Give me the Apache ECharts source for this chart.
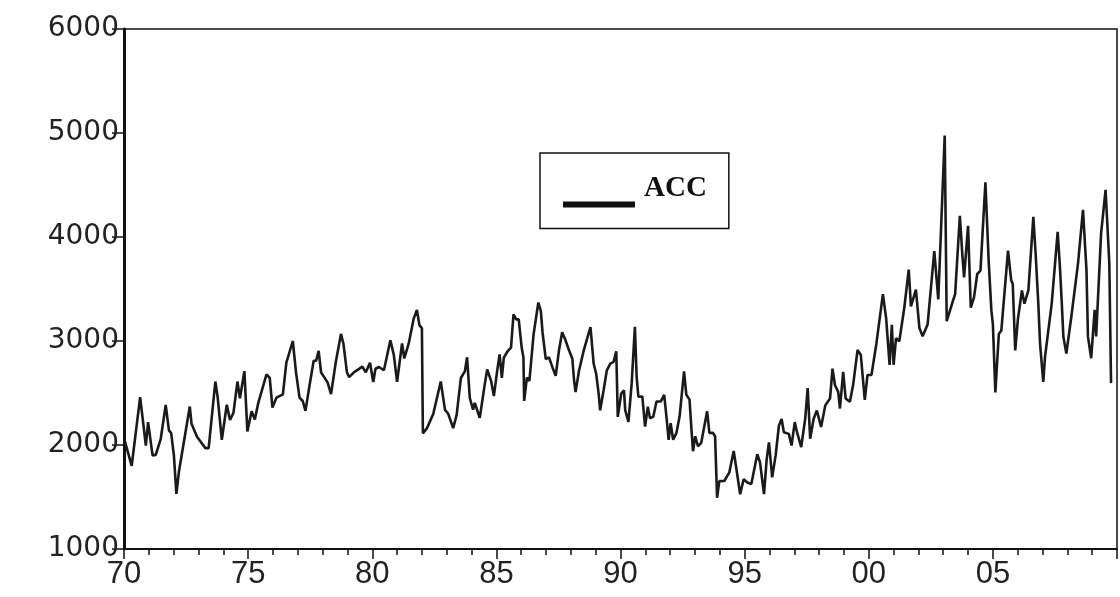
<!DOCTYPE html>
<html>
<head>
<meta charset="utf-8">
<title>ACC</title>
<script src="https://cdn.jsdelivr.net/npm/echarts@6/dist/echarts.min.js"></script>
<style>
html, body { margin: 0; padding: 0; background: #fff; }
#main { width: 1120px; height: 597px; }
</style>
</head>
<body>
<div id="main"></div>
<script>
// (decimal year, value)
var dates = [
	1970.02, 1970.31, 1970.65, 1970.88, 1970.97, 1971.15, 1971.28, 1971.48, 1971.68, 1971.81, 1971.90,
	1972.01, 1972.11, 1972.21, 1972.65, 1972.72, 1972.94, 1973.28, 1973.41, 1973.68, 1973.77, 1973.94,
	1974.14, 1974.27, 1974.41, 1974.57, 1974.67, 1974.85, 1974.97, 1975.14, 1975.27, 1975.41, 1975.74,
	1975.87, 1975.98, 1976.14, 1976.40, 1976.54, 1976.80, 1976.93, 1977.07, 1977.20, 1977.31, 1977.47,
	1977.64, 1977.74, 1977.84, 1977.94, 1978.07, 1978.20, 1978.34, 1978.53, 1978.74, 1978.84, 1978.98,
	1979.07, 1979.27, 1979.47, 1979.60, 1979.74, 1979.91, 1980.04, 1980.13, 1980.27, 1980.47, 1980.73,
	1980.87, 1981.00, 1981.20, 1981.29, 1981.47, 1981.67, 1981.80, 1981.90, 1982.00, 1982.04, 1982.20,
	1982.46, 1982.76, 1982.93, 1983.06, 1983.26, 1983.40, 1983.57, 1983.73, 1983.82, 1983.93, 1984.06,
	1984.13, 1984.33, 1984.53, 1984.63, 1984.79, 1984.90, 1985.03, 1985.13, 1985.22, 1985.30, 1985.46,
	1985.59, 1985.69, 1985.80, 1985.90, 1986.02, 1986.09, 1986.12, 1986.23, 1986.33, 1986.50, 1986.69,
	1986.79, 1986.86, 1986.99, 1987.12, 1987.26, 1987.39, 1987.52, 1987.65, 1987.79, 1987.93, 1988.06,
	1988.13, 1988.19, 1988.33, 1988.52, 1988.79, 1988.92, 1989.02, 1989.12, 1989.18, 1989.32, 1989.45,
	1989.59, 1989.72, 1989.83, 1989.89, 1990.03, 1990.14, 1990.19, 1990.32, 1990.45, 1990.58, 1990.65,
	1990.72, 1990.88, 1990.99, 1991.10, 1991.19, 1991.32, 1991.45, 1991.62, 1991.76, 1991.85, 1991.94,
	1992.02, 1992.12, 1992.25, 1992.38, 1992.56, 1992.65, 1992.78, 1992.85, 1992.92, 1993.01, 1993.12,
	1993.25, 1993.49, 1993.58, 1993.72, 1993.81, 1993.89, 1993.98, 1994.18, 1994.38, 1994.56, 1994.69,
	1994.82, 1994.96, 1995.11, 1995.27, 1995.51, 1995.62, 1995.78, 1995.89, 1995.98, 1996.11, 1996.25,
	1996.38, 1996.49, 1996.58, 1996.78, 1996.89, 1997.02, 1997.11, 1997.28, 1997.44, 1997.54, 1997.64,
	1997.78, 1997.91, 1998.08, 1998.25, 1998.44, 1998.54, 1998.64, 1998.77, 1998.84, 1998.97, 1999.07,
	1999.24, 1999.37, 1999.55, 1999.68, 1999.84, 1999.95, 2000.11, 2000.31, 2000.57, 2000.70, 2000.84,
	2000.93, 2001.00, 2001.10, 2001.23, 2001.43, 2001.61, 2001.70, 2001.90, 2002.04, 2002.17, 2002.37,
	2002.64, 2002.80, 2003.06, 2003.14, 2003.37, 2003.48, 2003.67, 2003.77, 2003.84, 2004.00, 2004.11,
	2004.24, 2004.37, 2004.50, 2004.70, 2004.83, 2004.94, 2005.00, 2005.10, 2005.24, 2005.34, 2005.61,
	2005.74, 2005.80, 2005.90, 2006.01, 2006.17, 2006.27, 2006.43, 2006.63, 2006.73, 2006.83, 2006.90,
	2007.03, 2007.10, 2007.17, 2007.37, 2007.61, 2007.70, 2007.77, 2007.84, 2007.96, 2008.16, 2008.43,
	2008.63, 2008.77, 2008.83, 2008.96, 2009.10, 2009.16, 2009.36, 2009.54, 2009.69, 2009.76
];
var acc = [
	2050, 1800, 2460, 1995, 2220, 1900, 1905, 2060, 2385, 2140, 2115,
	1900, 1530, 1740, 2370, 2205, 2080, 1970, 1970, 2610, 2465, 2050,
	2387, 2240, 2310, 2610, 2450, 2710, 2130, 2325, 2245, 2405, 2680,
	2645, 2360, 2455, 2487, 2792, 3000, 2696, 2456, 2423, 2328, 2568,
	2810, 2810, 2906, 2697, 2650, 2602, 2490, 2795, 3068, 2972, 2700,
	2652, 2700, 2732, 2754, 2700, 2791, 2605, 2733, 2750, 2719, 3007,
	2864, 2607, 2976, 2832, 2977, 3217, 3298, 3153, 3122, 2112, 2160,
	2300, 2610, 2338, 2300, 2162, 2290, 2644, 2708, 2843, 2452, 2340,
	2405, 2260, 2581, 2726, 2614, 2470, 2710, 2871, 2646, 2840, 2904,
	2936, 3257, 3208, 3209, 2937, 2841, 2424, 2648, 2616, 3066, 3370,
	3290, 3082, 2827, 2843, 2746, 2666, 2908, 3084, 3004, 2908, 2829,
	2620, 2508, 2716, 2910, 3134, 2781, 2685, 2494, 2334, 2527, 2718,
	2783, 2800, 2900, 2270, 2495, 2526, 2336, 2222, 2592, 3137, 2657,
	2464, 2465, 2176, 2368, 2256, 2272, 2418, 2418, 2482, 2273, 2050,
	2210, 2050, 2114, 2274, 2708, 2484, 2436, 2179, 1940, 2084, 1988,
	2020, 2324, 2116, 2117, 2085, 1492, 1653, 1654, 1734, 1942, 1735,
	1526, 1671, 1640, 1624, 1912, 1833, 1527, 1866, 2025, 1689, 1900,
	2185, 2250, 2122, 2107, 1995, 2220, 2123, 1980, 2252, 2548, 2060,
	2252, 2332, 2173, 2381, 2446, 2734, 2575, 2511, 2351, 2703, 2447,
	2416, 2576, 2914, 2866, 2433, 2673, 2674, 2979, 3450, 3220, 2771,
	3156, 2771, 3028, 2996, 3317, 3686, 3333, 3494, 3126, 3046, 3158,
	3865, 3400, 4975, 3190, 3370, 3450, 4204, 3831, 3611, 4107, 3321,
	3419, 3644, 3676, 4526, 3773, 3292, 3163, 2506, 3067, 3100, 3870,
	3581, 3550, 2909, 3213, 3486, 3359, 3487, 4193, 3808, 3360, 2975,
	2606, 2847, 2847, 3360, 4050, 3714, 3393, 3040, 2880, 3233, 3747,
	4261, 3684, 3042, 2834, 3299, 3043, 4037, 4454, 3750, 2595
];
var xTicks = [1970, 1975, 1980, 1985, 1990, 1995, 2000, 2005];
var xTickText = ['70', '75', '80', '85', '90', '95', '00', '05'];
var seriesName = 'ACC';

var points = [];
for (var i = 0; i < dates.length; i++) {
	points.push([dates[i], acc[i]]);
}

var myChart = echarts.init(document.getElementById('main'));
var option = {
	animation: false,
	backgroundColor: '#fff',
	grid: {
		left: 124,
		right: 1,
		top: 29,
		bottom: 48,
		show: true,
		borderColor: '#111',
		borderWidth: 1.5
	},
	legend: {
		left: 540,
		top: 153,
		data: [{ name: seriesName, icon: 'rect' }],
		itemWidth: 72,
		itemHeight: 6,
		itemGap: 0,
		padding: [21, 22, 21, 23],
		backgroundColor: '#fff',
		borderColor: '#111',
		borderWidth: 1.5,
		formatter: '{t|{name}}',
		textStyle: {
			rich: {
				t: {
					fontFamily: 'Liberation Serif',
					fontWeight: 'bold',
					fontSize: 29,
					color: '#111',
					padding: [0, 0, 32, 4]
				}
			}
		}
	},
	xAxis: {
		type: 'value',
		min: 1970,
		max: 2010,
		interval: 5,
		axisLine: { lineStyle: { color: '#111', width: 2 } },
		axisTick: { show: true, inside: false, length: 10, lineStyle: { color: '#111', width: 1.5 } },
		minorTick: { show: true, splitNumber: 5, length: 6, lineStyle: { color: '#111', width: 1.5 } },
		splitLine: { show: false },
		axisLabel: {
			margin: 10,
			fontFamily: 'Liberation Sans',
			fontSize: 31,
			color: '#222',
			formatter: function(v) {
				var k = xTicks.indexOf(v);
				return k >= 0 ? xTickText[k] : '';
			}
		}
	},
	yAxis: {
		type: 'value',
		min: 1000,
		max: 6000,
		interval: 1000,
		axisLine: { show: true, lineStyle: { color: '#111', width: 3 } },
		axisTick: { show: true, inside: false, length: 12, lineStyle: { color: '#111', width: 1.5 } },
		splitLine: { show: false },
		axisLabel: {
			margin: 5,
			fontFamily: 'DejaVu Sans',
			fontSize: 28,
			color: '#222',
			formatter: function(v) {
				return String(v);
			}
		}
	},
	series: [{
		name: seriesName,
		type: 'line',
		data: points,
		showSymbol: false,
		symbol: 'none',
		color: '#111',
		lineStyle: { color: '#1a1a1a', width: 2.6 }
	}]
};
myChart.setOption(option);
</script>
</body>
</html>
